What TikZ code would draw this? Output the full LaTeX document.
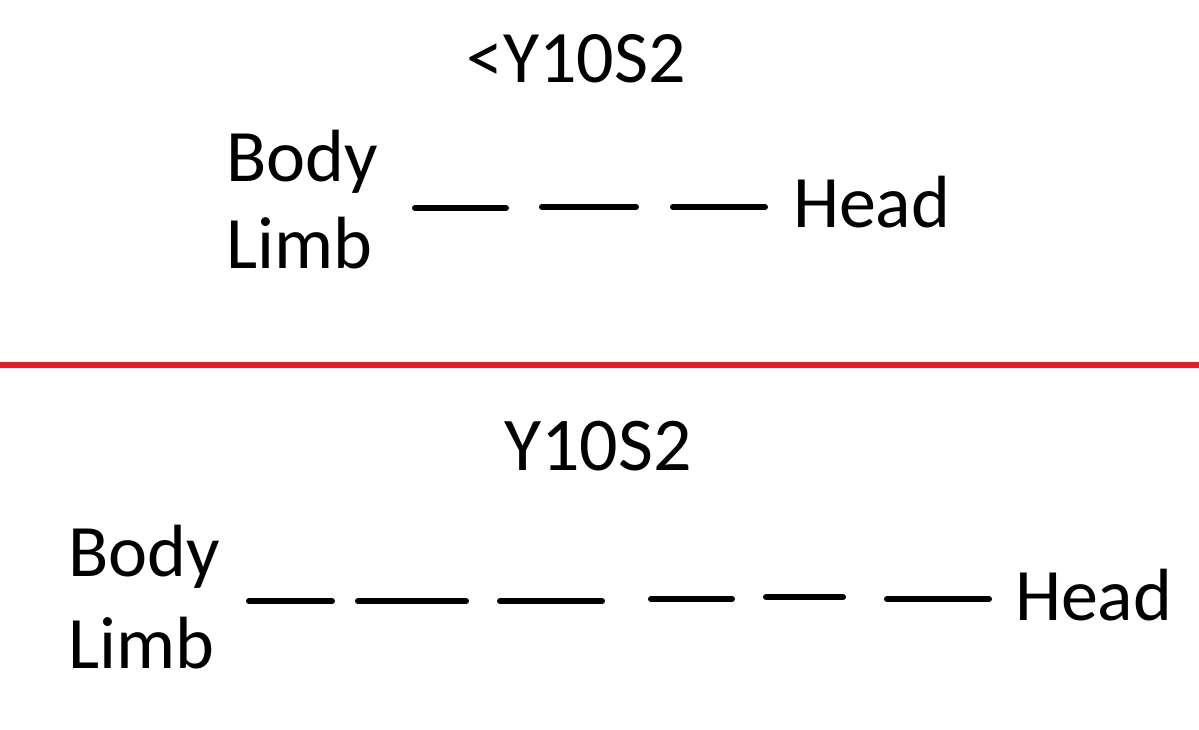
\documentclass[tikz,border=0pt]{standalone}
\usepackage{fontspec}
\setmainfont{Carlito}
\definecolor{sepred}{RGB}{237,28,36}
\tikzset{
  lbl/.style={inner sep=0pt, outer sep=0pt, font=\fontsize{74}{88}\selectfont},
  ttl/.style={inner sep=0pt, outer sep=0pt, anchor=base, font=\fontsize{74}{88}\selectfont},
  dashseg/.style={line width=6pt, line cap=round, black},
  sep/.style={line width=6pt, sepred}
}
\begin{document}
\begin{tikzpicture}[x=1pt,y=-1pt]
\useasboundingbox (0,0) rectangle (1199,729);
\fill[white] (0,0) rectangle (1199,729);
% top part
\node[ttl] (t1) at (576,82) {<Y10S2};
\node[lbl, anchor=base west] (body1) at (226,181) {Body};
\node[lbl, anchor=base west] (limb1) at (226,268) {Limb};
\node[lbl, anchor=base west] (head1) at (793,227) {Head};
\draw[dashseg] (415,208) -- (506,208);
\draw[dashseg] (542,207) -- (636,207);
\draw[dashseg] (673,207) -- (765,207);
% separator
\coordinate (sl) at (0,365);
\coordinate (sr) at (1199,365);
\draw[sep] (sl) -- (sr);
% bottom part
\node[ttl, font=\fontsize{76}{90}\selectfont] (t2) at (598,470) {Y10S2};
\node[lbl, anchor=base west] (body2) at (68,576) {Body};
\node[lbl, anchor=base west] (limb2) at (68,668) {Limb};
\node[lbl, anchor=base west] (head2) at (1015,620) {Head};
\draw[dashseg] (249,601) -- (332,601);
\draw[dashseg] (358,601) -- (466,601);
\draw[dashseg] (500,601) -- (602,601);
\draw[dashseg] (651,599) -- (732,599);
\draw[dashseg] (766,597) -- (843,597);
\draw[dashseg] (887,599) -- (989,599);
\end{tikzpicture}
\end{document}
